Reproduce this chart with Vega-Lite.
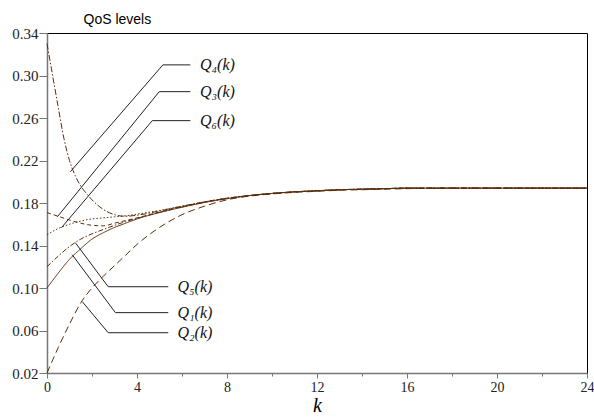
{
  "$schema": "https://vega.github.io/schema/vega-lite/v6.json",
  "width": 540,
  "height": 340,
  "autosize": "none",
  "padding": {"left": 47, "top": 33, "right": 7, "bottom": 46},
  "background": "white",
  "config": {"view": {"stroke": "#000", "strokeWidth": 1}},
  "datasets": {
    "curves": [
      {"series": "Q1", "k": 0, "q": 0.100}, {"series": "Q1", "k": 0.5, "q": 0.114}, {"series": "Q1", "k": 1, "q": 0.127}, {"series": "Q1", "k": 1.5, "q": 0.137}, {"series": "Q1", "k": 2, "q": 0.146}, {"series": "Q1", "k": 2.5, "q": 0.152}, {"series": "Q1", "k": 3, "q": 0.157}, {"series": "Q1", "k": 3.5, "q": 0.161}, {"series": "Q1", "k": 4, "q": 0.165}, {"series": "Q1", "k": 5, "q": 0.171}, {"series": "Q1", "k": 6, "q": 0.176}, {"series": "Q1", "k": 7, "q": 0.1805}, {"series": "Q1", "k": 8, "q": 0.184}, {"series": "Q1", "k": 9, "q": 0.187}, {"series": "Q1", "k": 10, "q": 0.189}, {"series": "Q1", "k": 11, "q": 0.1905}, {"series": "Q1", "k": 12, "q": 0.1915}, {"series": "Q1", "k": 13, "q": 0.1925}, {"series": "Q1", "k": 14, "q": 0.193}, {"series": "Q1", "k": 15, "q": 0.1935}, {"series": "Q1", "k": 16, "q": 0.194}, {"series": "Q1", "k": 18, "q": 0.194}, {"series": "Q1", "k": 20, "q": 0.194}, {"series": "Q1", "k": 22, "q": 0.194}, {"series": "Q1", "k": 24, "q": 0.194},
      {"series": "Q2", "k": 0, "q": 0.020}, {"series": "Q2", "k": 0.5, "q": 0.044}, {"series": "Q2", "k": 1, "q": 0.066}, {"series": "Q2", "k": 1.5, "q": 0.086}, {"series": "Q2", "k": 2, "q": 0.100}, {"series": "Q2", "k": 2.5, "q": 0.111}, {"series": "Q2", "k": 3, "q": 0.121}, {"series": "Q2", "k": 3.5, "q": 0.131}, {"series": "Q2", "k": 4, "q": 0.141}, {"series": "Q2", "k": 5, "q": 0.157}, {"series": "Q2", "k": 6, "q": 0.169}, {"series": "Q2", "k": 7, "q": 0.177}, {"series": "Q2", "k": 8, "q": 0.183}, {"series": "Q2", "k": 9, "q": 0.1865}, {"series": "Q2", "k": 10, "q": 0.1885}, {"series": "Q2", "k": 11, "q": 0.190}, {"series": "Q2", "k": 12, "q": 0.191}, {"series": "Q2", "k": 13, "q": 0.192}, {"series": "Q2", "k": 14, "q": 0.1925}, {"series": "Q2", "k": 15, "q": 0.193}, {"series": "Q2", "k": 16, "q": 0.1935}, {"series": "Q2", "k": 18, "q": 0.194}, {"series": "Q2", "k": 20, "q": 0.194}, {"series": "Q2", "k": 22, "q": 0.194}, {"series": "Q2", "k": 24, "q": 0.194},
      {"series": "Q3", "k": 0, "q": 0.171}, {"series": "Q3", "k": 0.5, "q": 0.1675}, {"series": "Q3", "k": 1, "q": 0.164}, {"series": "Q3", "k": 1.5, "q": 0.161}, {"series": "Q3", "k": 2, "q": 0.159}, {"series": "Q3", "k": 2.5, "q": 0.1585}, {"series": "Q3", "k": 3, "q": 0.161}, {"series": "Q3", "k": 3.5, "q": 0.1635}, {"series": "Q3", "k": 4, "q": 0.166}, {"series": "Q3", "k": 5, "q": 0.1715}, {"series": "Q3", "k": 6, "q": 0.1765}, {"series": "Q3", "k": 7, "q": 0.181}, {"series": "Q3", "k": 8, "q": 0.1845}, {"series": "Q3", "k": 9, "q": 0.187}, {"series": "Q3", "k": 10, "q": 0.189}, {"series": "Q3", "k": 11, "q": 0.1905}, {"series": "Q3", "k": 12, "q": 0.1915}, {"series": "Q3", "k": 13, "q": 0.1925}, {"series": "Q3", "k": 14, "q": 0.193}, {"series": "Q3", "k": 15, "q": 0.1935}, {"series": "Q3", "k": 16, "q": 0.194}, {"series": "Q3", "k": 18, "q": 0.194}, {"series": "Q3", "k": 20, "q": 0.194}, {"series": "Q3", "k": 22, "q": 0.194}, {"series": "Q3", "k": 24, "q": 0.194},
      {"series": "Q4", "k": 0, "q": 0.330}, {"series": "Q4", "k": 0.25, "q": 0.300}, {"series": "Q4", "k": 0.5, "q": 0.270}, {"series": "Q4", "k": 0.75, "q": 0.241}, {"series": "Q4", "k": 1, "q": 0.220}, {"series": "Q4", "k": 1.25, "q": 0.206}, {"series": "Q4", "k": 1.5, "q": 0.196}, {"series": "Q4", "k": 1.75, "q": 0.189}, {"series": "Q4", "k": 2, "q": 0.183}, {"series": "Q4", "k": 2.5, "q": 0.174}, {"series": "Q4", "k": 3, "q": 0.169}, {"series": "Q4", "k": 3.5, "q": 0.1675}, {"series": "Q4", "k": 4, "q": 0.1685}, {"series": "Q4", "k": 5, "q": 0.1725}, {"series": "Q4", "k": 6, "q": 0.177}, {"series": "Q4", "k": 7, "q": 0.181}, {"series": "Q4", "k": 8, "q": 0.1845}, {"series": "Q4", "k": 9, "q": 0.187}, {"series": "Q4", "k": 10, "q": 0.189}, {"series": "Q4", "k": 11, "q": 0.1905}, {"series": "Q4", "k": 12, "q": 0.1915}, {"series": "Q4", "k": 13, "q": 0.1925}, {"series": "Q4", "k": 14, "q": 0.193}, {"series": "Q4", "k": 15, "q": 0.1935}, {"series": "Q4", "k": 16, "q": 0.194}, {"series": "Q4", "k": 18, "q": 0.194}, {"series": "Q4", "k": 20, "q": 0.194}, {"series": "Q4", "k": 22, "q": 0.194}, {"series": "Q4", "k": 24, "q": 0.194},
      {"series": "Q5", "k": 0, "q": 0.120}, {"series": "Q5", "k": 0.5, "q": 0.130}, {"series": "Q5", "k": 1, "q": 0.139}, {"series": "Q5", "k": 1.5, "q": 0.146}, {"series": "Q5", "k": 2, "q": 0.151}, {"series": "Q5", "k": 2.5, "q": 0.155}, {"series": "Q5", "k": 3, "q": 0.159}, {"series": "Q5", "k": 3.5, "q": 0.1625}, {"series": "Q5", "k": 4, "q": 0.1655}, {"series": "Q5", "k": 5, "q": 0.1712}, {"series": "Q5", "k": 6, "q": 0.1762}, {"series": "Q5", "k": 7, "q": 0.1807}, {"series": "Q5", "k": 8, "q": 0.1842}, {"series": "Q5", "k": 9, "q": 0.187}, {"series": "Q5", "k": 10, "q": 0.189}, {"series": "Q5", "k": 11, "q": 0.1905}, {"series": "Q5", "k": 12, "q": 0.1915}, {"series": "Q5", "k": 13, "q": 0.1925}, {"series": "Q5", "k": 14, "q": 0.193}, {"series": "Q5", "k": 15, "q": 0.1935}, {"series": "Q5", "k": 16, "q": 0.194}, {"series": "Q5", "k": 18, "q": 0.194}, {"series": "Q5", "k": 20, "q": 0.194}, {"series": "Q5", "k": 22, "q": 0.194}, {"series": "Q5", "k": 24, "q": 0.194},
      {"series": "Q6", "k": 0, "q": 0.150}, {"series": "Q6", "k": 0.5, "q": 0.156}, {"series": "Q6", "k": 1, "q": 0.160}, {"series": "Q6", "k": 1.5, "q": 0.163}, {"series": "Q6", "k": 2, "q": 0.165}, {"series": "Q6", "k": 2.5, "q": 0.166}, {"series": "Q6", "k": 3, "q": 0.167}, {"series": "Q6", "k": 3.5, "q": 0.168}, {"series": "Q6", "k": 4, "q": 0.1695}, {"series": "Q6", "k": 5, "q": 0.173}, {"series": "Q6", "k": 6, "q": 0.177}, {"series": "Q6", "k": 7, "q": 0.181}, {"series": "Q6", "k": 8, "q": 0.1845}, {"series": "Q6", "k": 9, "q": 0.187}, {"series": "Q6", "k": 10, "q": 0.189}, {"series": "Q6", "k": 11, "q": 0.1905}, {"series": "Q6", "k": 12, "q": 0.1915}, {"series": "Q6", "k": 13, "q": 0.1925}, {"series": "Q6", "k": 14, "q": 0.193}, {"series": "Q6", "k": 15, "q": 0.1935}, {"series": "Q6", "k": 16, "q": 0.194}, {"series": "Q6", "k": 18, "q": 0.194}, {"series": "Q6", "k": 20, "q": 0.194}, {"series": "Q6", "k": 22, "q": 0.194}, {"series": "Q6", "k": 24, "q": 0.194}
    ],
    "pointers": [
      {"id": "Q4", "o": 1, "k": 1.04, "q": 0.2095}, {"id": "Q4", "o": 2, "k": 5.15, "q": 0.310}, {"id": "Q4", "o": 3, "k": 6.37, "q": 0.310},
      {"id": "Q3", "o": 1, "k": 0.46, "q": 0.167}, {"id": "Q3", "o": 2, "k": 4.99, "q": 0.2848}, {"id": "Q3", "o": 3, "k": 6.37, "q": 0.2848},
      {"id": "Q6", "o": 1, "k": 0.64, "q": 0.1567}, {"id": "Q6", "o": 2, "k": 4.68, "q": 0.2575}, {"id": "Q6", "o": 3, "k": 6.37, "q": 0.2575},
      {"id": "Q5", "o": 1, "k": 1.26, "q": 0.1426}, {"id": "Q5", "o": 2, "k": 2.72, "q": 0.1012}, {"id": "Q5", "o": 3, "k": 5.39, "q": 0.1012},
      {"id": "Q1", "o": 1, "k": 1.12, "q": 0.1313}, {"id": "Q1", "o": 2, "k": 3.04, "q": 0.0768}, {"id": "Q1", "o": 3, "k": 5.39, "q": 0.0768},
      {"id": "Q2", "o": 1, "k": 1.57, "q": 0.0871}, {"id": "Q2", "o": 2, "k": 2.72, "q": 0.0579}, {"id": "Q2", "o": 3, "k": 5.39, "q": 0.0579}
    ],
    "labels": [
      {"label": "Q₄(k)", "k": 6.8, "q": 0.310},
      {"label": "Q₃(k)", "k": 6.8, "q": 0.2848},
      {"label": "Q₆(k)", "k": 6.8, "q": 0.2575},
      {"label": "Q₅(k)", "k": 5.8, "q": 0.1012},
      {"label": "Q₁(k)", "k": 5.8, "q": 0.0768},
      {"label": "Q₂(k)", "k": 5.8, "q": 0.0579}
    ]
  },
  "layer": [
    {
      "data": {"name": "curves"},
      "mark": {"type": "line", "interpolate": "monotone", "strokeWidth": 1, "color": "#5a2d0c"},
      "encoding": {
        "x": {
          "field": "k", "type": "quantitative",
          "scale": {"domain": [0, 24], "nice": false},
          "axis": {
            "values": [0, 2, 4, 6, 8, 10, 12, 14, 16, 18, 20, 22, 24],
            "labelExpr": "datum.value % 4 == 0 ? datum.label : ''",
            "tickSize": {"condition": {"test": "datum.value % 4 == 0", "value": 5}, "value": 3},
            "grid": false, "domainColor": "#777", "tickColor": "#777", "domainWidth": 1.5,
            "labelFont": "Liberation Serif", "labelFontSize": 14, "labelColor": "#222",
            "labelFlush": false, "labelOverlap": false, "labelBound": false, "labelPadding": 2,
            "title": "k", "titleFont": "Liberation Serif", "titleFontStyle": "italic", "titleFontWeight": "normal",
            "titleFontSize": 20, "titleColor": "#000", "titleY": 38, "titleBaseline": "alphabetic"
          }
        },
        "y": {
          "field": "q", "type": "quantitative",
          "scale": {"domain": [0.02, 0.34], "nice": false, "zero": false},
          "axis": {
            "values": [0.02, 0.04, 0.06, 0.08, 0.10, 0.12, 0.14, 0.16, 0.18, 0.20, 0.22, 0.24, 0.26, 0.28, 0.30, 0.32, 0.34],
            "labelExpr": "round(datum.value * 100) % 4 == 2 ? format(datum.value, '.2f') : ''",
            "tickSize": {"condition": {"test": "round(datum.value * 100) % 4 == 2", "value": 8}, "value": 3},
            "grid": false, "domainColor": "#777", "tickColor": "#777", "domainWidth": 1.5,
            "labelFont": "Liberation Serif", "labelFontSize": 15, "labelColor": "#222",
            "labelFlush": false, "labelOverlap": false, "labelBound": false, "labelPadding": 1,
            "title": "QoS levels", "titleFont": "Liberation Sans", "titleFontSize": 14, "titleFontWeight": "normal",
            "titleColor": "#000", "titleAngle": 0, "titleX": 36, "titleY": -14, "titleAlign": "left", "titleBaseline": "middle"
          }
        },
        "strokeDash": {
          "field": "series", "type": "nominal",
          "scale": {"domain": ["Q1", "Q2", "Q3", "Q4", "Q5", "Q6"], "range": [[1, 0], [7, 4], [4, 3], [6, 2, 1.5, 2], [5, 2, 1.5, 2], [1.5, 2]]},
          "legend": null
        }
      }
    },
    {
      "data": {"name": "pointers"},
      "mark": {"type": "line", "color": "#222", "strokeWidth": 1},
      "encoding": {
        "x": {"field": "k", "type": "quantitative"},
        "y": {"field": "q", "type": "quantitative"},
        "detail": {"field": "id", "type": "nominal"},
        "order": {"field": "o", "type": "quantitative"}
      }
    },
    {
      "data": {"name": "labels"},
      "mark": {"type": "text", "align": "left", "baseline": "middle", "font": "Liberation Serif", "fontStyle": "italic", "fontSize": 16, "color": "#111"},
      "encoding": {
        "x": {"field": "k", "type": "quantitative"},
        "y": {"field": "q", "type": "quantitative"},
        "text": {"field": "label", "type": "nominal"}
      }
    }
  ]
}
